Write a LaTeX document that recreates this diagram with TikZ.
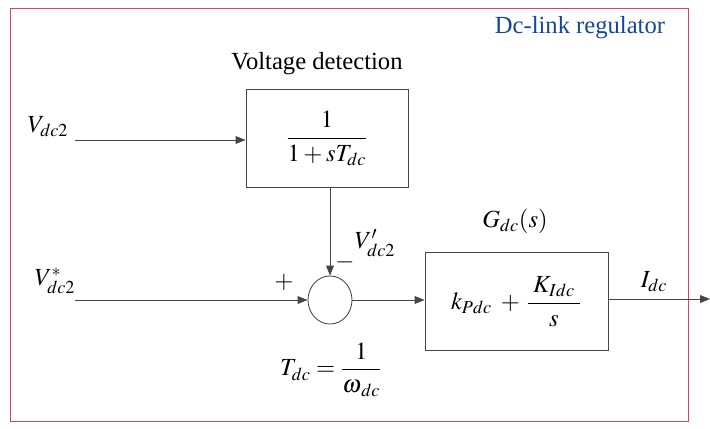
\documentclass[tikz,border=0pt]{standalone}
\usepackage{amsmath}
\usepackage{mathptmx}
\usepackage{fontspec}
\setmainfont{Liberation Serif}
\usepackage{tikz}
\usetikzlibrary{arrows.meta,positioning,shapes.geometric}
\definecolor{framered}{RGB}{214,70,90}
\definecolor{regblue}{RGB}{20,70,160}
\definecolor{linegray}{RGB}{70,70,70}

\begin{document}
\begin{tikzpicture}[x=0.025cm,y=-0.025cm,
    font=\fontsize{17.5}{21}\selectfont,
    blockbox/.style={draw=linegray, line width=0.6pt, minimum height=2.43cm, inner sep=0pt},
    sig/.style={draw=linegray, line width=0.5pt, -{Triangle[length=7pt,width=5.5pt]}}]
    \useasboundingbox (0,0) rectangle (710,428);
    % outer frame
    \draw[framered, line width=0.7pt] (10,8) rectangle (688,421);
    \node[text=regblue, anchor=east] (title) at (670,28) {Dc-link regulator};

    % voltage detection
    \node (detlabel) at (317,64) {Voltage detection};
    \node[blockbox, minimum width=4.05cm] (det) at (327,138.5) {$\dfrac{1}{1+sT_{dc}}$};
    \node (vdc) at (48,127) {$V_{dc2}$};
    \coordinate (vin) at (75,140);
    \draw[sig] (vin) -- (det.west |- vin);

    % summing point
    \node[draw=linegray, line width=0.6pt, ellipse, minimum width=1.1cm, minimum height=1.2cm, inner sep=0pt] (sum) at (330,300) {};
    \node (vref) at (55,281) {$V^{*}_{dc2}$};
    \coordinate (refin) at (75,300);
    \draw[sig] (refin) -- (sum.west);
    \draw[sig] (det.south -| sum.north) -- (sum.north);
    \node (plus) at (284,282) {$+$};
    \node[inner sep=0pt] (minus) at (345,262) {$-$};
    \node[inner sep=0pt] (vfb) at (375,243) {$V^{\prime}_{dc2}$};

    % PI controller
    \node[blockbox, minimum width=4.575cm] (pi) at (516.5,301.5) {$k_{Pdc}\;+\,\dfrac{\;K_{Idc}\;}{s}$};
    \node (gdc) at (515,221) {$G_{dc}\!\left(s\right)$};
    \draw[sig] (sum.east) -- (pi.west |- sum.east);
    \coordinate (out) at (710,299);
    \draw[sig] (pi.east |- out) -- (out);
    \node (idc) at (654,282) {$I_{dc}$};

    \node (tdc) at (331,370) {$T_{dc}=\dfrac{1}{\omega_{\,dc}}$};
\end{tikzpicture}
\end{document}
